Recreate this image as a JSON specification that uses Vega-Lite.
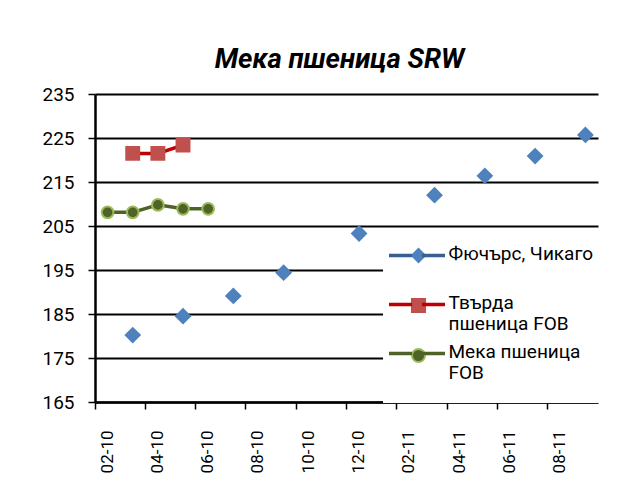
{
  "$schema": "https://vega.github.io/schema/vega-lite/v6.json",
  "width": 503,
  "height": 308,
  "autosize": "none",
  "padding": {"left": 95, "top": 94, "right": 33, "bottom": 97},
  "background": "white",
  "title": {
    "text": "Мека пшеница SRW",
    "font": "Roboto",
    "fontSize": 27.5,
    "fontStyle": "italic",
    "fontWeight": "bold",
    "color": "black",
    "anchor": "middle",
    "offset": 12,
    "dx": -7
  },
  "config": {
    "view": {"stroke": null},
    "font": "Roboto"
  },
  "data": {
    "values": [
      {"month": "03-10", "series": "Фючърс, Чикаго", "value": 180.2},
      {"month": "05-10", "series": "Фючърс, Чикаго", "value": 184.5},
      {"month": "07-10", "series": "Фючърс, Чикаго", "value": 189.1},
      {"month": "09-10", "series": "Фючърс, Чикаго", "value": 194.4},
      {"month": "12-10", "series": "Фючърс, Чикаго", "value": 203.3},
      {"month": "03-11", "series": "Фючърс, Чикаго", "value": 212.0},
      {"month": "05-11", "series": "Фючърс, Чикаго", "value": 216.4},
      {"month": "07-11", "series": "Фючърс, Чикаго", "value": 220.9},
      {"month": "09-11", "series": "Фючърс, Чикаго", "value": 225.7},
      {"month": "03-10", "series": "Твърда пшеница FOB", "value": 221.5},
      {"month": "04-10", "series": "Твърда пшеница FOB", "value": 221.5},
      {"month": "05-10", "series": "Твърда пшеница FOB", "value": 223.4},
      {"month": "02-10", "series": "Мека пшеница FOB", "value": 208.1},
      {"month": "03-10", "series": "Мека пшеница FOB", "value": 208.1},
      {"month": "04-10", "series": "Мека пшеница FOB", "value": 209.8},
      {"month": "05-10", "series": "Мека пшеница FOB", "value": 208.9},
      {"month": "06-10", "series": "Мека пшеница FOB", "value": 208.9}
    ]
  },
  "encoding": {
    "x": {
      "field": "month",
      "type": "ordinal",
      "sort": null,
      "scale": {
        "type": "band",
        "domain": ["02-10","03-10","04-10","05-10","06-10","07-10","08-10","09-10","10-10","11-10","12-10","01-11","02-11","03-11","04-11","05-11","06-11","07-11","08-11","09-11"],
        "paddingInner": 0,
        "paddingOuter": 0
      },
      "axis": {
        "title": null,
        "values": ["02-10","04-10","06-10","08-10","10-10","12-10","02-11","04-11","06-11","08-11"],
        "bandPosition": 0,
        "labelAngle": 270,
        "labelFontSize": 17,
        "labelColor": "black",
        "labelPadding": 21,
        "domainColor": "black",
        "domainWidth": 2.5,
        "tickColor": "black",
        "tickWidth": 1.5,
        "tickSize": 7,
        "grid": false
      }
    },
    "y": {
      "field": "value",
      "type": "quantitative",
      "scale": {"domain": [165, 235], "nice": false, "zero": false},
      "axis": {
        "title": null,
        "values": [165, 175, 185, 195, 205, 215, 225, 235],
        "labelFontSize": 19,
        "labelColor": "black",
        "labelPadding": 14,
        "domainColor": "black",
        "domainWidth": 2.5,
        "tickColor": "black",
        "tickWidth": 1.5,
        "tickSize": 7,
        "grid": true,
        "gridColor": "black",
        "gridWidth": 2,
        "gridOpacity": 1
      }
    }
  },
  "layer": [
    {
      "transform": [{"filter": "datum.series != 'Фючърс, Чикаго'"}],
      "mark": {"type": "line", "strokeWidth": 3.5},
      "encoding": {
        "stroke": {
          "field": "series",
          "type": "nominal",
          "scale": {
            "domain": ["Фючърс, Чикаго", "Твърда пшеница FOB", "Мека пшеница FOB"],
            "range": ["#376092", "#C00000", "#4F6228"]
          },
          "legend": {
            "title": null,
            "orient": "none",
            "legendX": 288,
            "legendY": 145,
            "padding": 7,
            "symbolType": "M-3,0H3.6M6.4,0H13",
            "symbolSize": 49,
            "symbolStrokeWidth": 3.5,
            "labelFont": "Roboto",
            "labelFontSize": 19,
            "labelColor": "black",
            "labelOffset": 39.5,
            "labelLimit": 300,
            "labelBaseline": "top",
            "rowPadding": 8,
            "labelExpr": "datum.label == 'Твърда пшеница FOB' ? ['Твърда', 'пшеница FOB'] : datum.label == 'Мека пшеница FOB' ? ['Мека пшеница', 'FOB'] : [datum.label, '']",
            "encode": {"labels": {"update": {"dy": {"value": -11}}}}
          }
        }
      }
    },
    {
      "mark": {"type": "point", "filled": true, "opacity": 1, "strokeWidth": 2},
      "encoding": {
        "fill": {
          "field": "series",
          "type": "nominal",
          "scale": {
            "domain": ["Фючърс, Чикаго", "Твърда пшеница FOB", "Мека пшеница FOB"],
            "range": ["#4F81BD", "#C0504D", "#4F6228"]
          },
          "legend": null
        },
        "shape": {
          "field": "series",
          "type": "nominal",
          "sort": "descending",
          "scale": {
            "range": ["diamond", "square", "circle"]
          },
          "legend": {
            "title": null,
            "orient": "none",
            "legendX": 288,
            "legendY": 145,
            "padding": 7,
            "fillColor": "white",
            "symbolOffset": 19,
            "symbolSize": 170,
            "symbolStrokeWidth": 2,
            "symbolFillColor": {"expr": "datum.value == 'Фючърс, Чикаго' ? '#4F81BD' : datum.value == 'Твърда пшеница FOB' ? '#C0504D' : '#4F6228'"},
            "symbolStrokeColor": {"expr": "datum.value == 'Мека пшеница FOB' ? '#9BBB59' : datum.value == 'Твърда пшеница FOB' ? '#C0504D' : '#4F81BD'"},
            "labelFont": "Roboto",
            "labelFontSize": 19,
            "labelOpacity": 0,
            "labelOffset": 43,
            "labelLimit": 300,
            "labelBaseline": "top",
            "rowPadding": -5,
            "labelExpr": "datum.label == 'Твърда пшеница FOB' ? ['Твърда', 'пшеница FOB'] : datum.label == 'Мека пшеница FOB' ? ['Мека пшеница', 'FOB'] : [datum.label, '']",
            "encode": {"labels": {"update": {"dy": {"value": -11}}}}
          }
        },
        "stroke": {
          "field": "series",
          "type": "nominal",
          "scale": {
            "domain": ["Фючърс, Чикаго", "Твърда пшеница FOB", "Мека пшеница FOB"],
            "range": ["#4F81BD", "#C0504D", "#9BBB59"]
          },
          "legend": null
        },
        "size": {
          "field": "series",
          "type": "nominal",
          "scale": {
            "domain": ["Фючърс, Чикаго", "Твърда пшеница FOB", "Мека пшеница FOB"],
            "range": [196, 137, 100]
          },
          "legend": null
        }
      }
    }
  ],
  "resolve": {"scale": {"stroke": "independent"}, "legend": {"stroke": "independent"}}
}
